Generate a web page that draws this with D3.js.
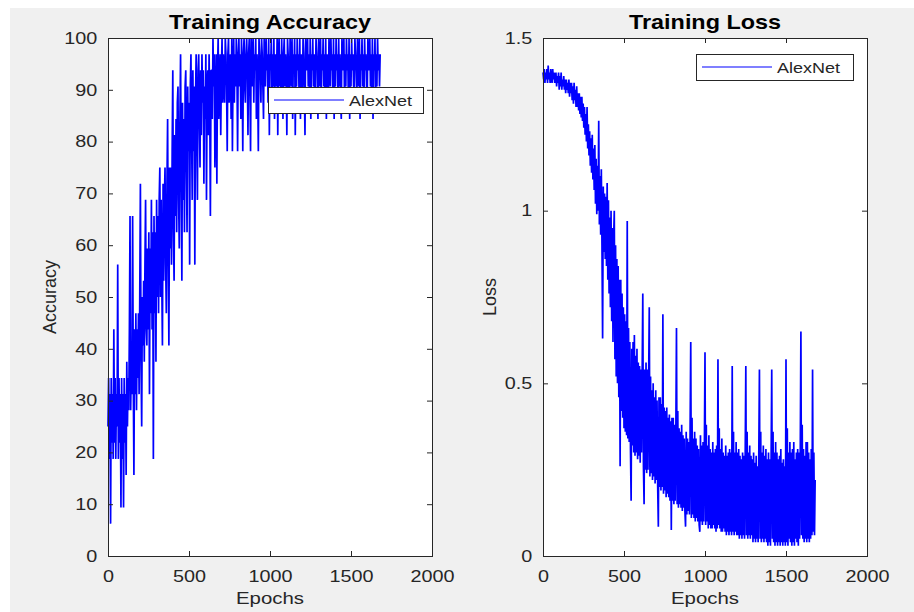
<!DOCTYPE html>
<html>
<head>
<meta charset="utf-8">
<script src="https://cdn.jsdelivr.net/npm/d3@7"></script>
<style>
  body { margin: 0; background: #fff; }
  svg { display: block; font-family: 'Liberation Sans', Arial, Helvetica, sans-serif; }
</style>
</head>
<body>
<div id="chart"></div>
<script>
const ITERATION_STEP = 4
const BATCH_SIZE = 32

const epochTicks = [0, 500, 1000, 1500, 2000]
const accuracyTicks = [0, 10, 20, 30, 40, 50, 60, 70, 80, 90, 100]
const lossTicks = [0, 0.5, 1, 1.5]
const legendLabels = ['AlexNet']

// correct images per mini batch (of 32), read every 4 iterations
const accuracyCorrect = [
  8, 11, 6, 10, 2, 11, 7, 10, 6, 14, 7, 11, 6, 10, 8, 18, 6, 11, 7, 10,
  3, 11, 6, 10, 3, 11, 7, 10, 5, 12, 8, 11, 9, 14, 21, 9, 12, 10, 21, 11,
  5, 14, 10, 15, 9, 14, 11, 15, 10, 16, 23, 12, 8, 16, 13, 17, 12, 18, 22, 14,
  13, 19, 14, 20, 10, 19, 15, 22, 14, 20, 6, 21, 15, 20, 12, 22, 16, 21, 15, 22,
  24, 16, 22, 17, 13, 23, 17, 22, 24, 18, 15, 23, 27, 18, 13, 24, 19, 24, 18, 25,
  30, 20, 17, 26, 21, 27, 20, 28, 29, 22, 19, 27, 31, 23, 17, 28, 22, 27, 20, 29,
  30, 24, 20, 29, 25, 28, 18, 29, 31, 26, 22, 30, 25, 29, 18, 28, 31, 26, 22, 30,
  31, 27, 24, 30, 26, 31, 28, 30, 23, 29, 27, 31, 22, 29, 30, 26, 31, 28, 21, 30,
  30, 27, 32, 29, 31, 24, 28, 31, 23, 30, 32, 27, 29, 31, 26, 30, 32, 28, 31, 29,
  28, 32, 31, 29, 25, 31, 32, 28, 30, 31, 27, 32, 25, 30, 32, 28, 31, 29, 32, 30,
  25, 31, 32, 29, 31, 27, 32, 30, 25, 31, 32, 29, 28, 31, 32, 30, 26, 31, 32, 29,
  25, 32, 31, 29, 32, 28, 31, 30, 32, 27, 31, 29, 25, 32, 31, 30, 28, 32, 31, 29,
  27, 32, 31, 29, 32, 30, 31, 28, 32, 26, 31, 30, 32, 28, 31, 29, 32, 27, 31, 30,
  29, 32, 26, 31, 32, 29, 31, 28, 32, 30, 27, 31, 32, 29, 31, 30, 26, 32, 31, 29,
  28, 32, 31, 29, 32, 27, 31, 30, 32, 26, 31, 29, 32, 30, 31, 28, 32, 27, 31, 30,
  28, 32, 31, 29, 26, 32, 31, 30, 32, 29, 31, 28, 32, 27, 31, 30, 32, 29, 31, 28,
  29, 32, 31, 30, 27, 32, 31, 29, 32, 28, 31, 30, 32, 29, 31, 28, 32, 27, 31, 30,
  28, 32, 31, 29, 32, 30, 31, 28, 32, 27, 31, 29, 32, 30, 31, 28, 32, 29, 31, 28,
  27, 32, 31, 30, 32, 28, 31, 29, 32, 30, 31, 28, 32, 27, 31, 29, 32, 30, 31, 29,
  29, 32, 31, 30, 28, 32, 31, 29, 32, 27, 31, 30, 32, 29, 31, 28, 32, 30, 31, 29,
  28, 32, 31, 30, 32, 29, 31, 28, 32, 27, 31, 30, 32, 28, 31, 29, 32, 30, 31, 29,
  31
]

// mini batch loss, read every 4 iterations
const lossValues = [
  1.40, 1.38, 1.41, 1.37, 1.40, 1.38, 1.41, 1.37, 1.42, 1.38, 1.40, 1.37, 1.41, 1.38, 1.37, 1.41, 1.38, 1.40, 1.37, 1.39,
  1.40, 1.36, 1.39, 1.37, 1.40, 1.35, 1.39, 1.36, 1.40, 1.35, 1.38, 1.36, 1.39, 1.35, 1.38, 1.34, 1.38, 1.35, 1.37, 1.34,
  1.38, 1.33, 1.37, 1.34, 1.37, 1.32, 1.36, 1.31, 1.37, 1.32, 1.35, 1.30, 1.36, 1.30, 1.34, 1.29, 1.34, 1.28, 1.33, 1.27,
  1.33, 1.26, 1.31, 1.24, 1.30, 1.22, 1.28, 1.20, 1.30, 1.18, 1.25, 1.16, 1.23, 1.13, 1.21, 1.11, 1.22, 1.09, 1.18, 1.06,
  1.19, 1.02, 1.15, 0.99, 1.13, 1.00, 1.26, 0.96, 1.10, 0.93, 1.12, 0.90, 0.63, 1.07, 0.88, 1.05, 0.86, 1.04, 0.84, 1.08,
  0.80, 1.03, 0.76, 0.98, 0.72, 1.00, 0.68, 0.95, 0.62, 0.92, 1.00, 0.57, 0.90, 0.52, 0.86, 0.50, 0.84, 0.46, 0.80, 0.26,
  0.80, 0.42, 0.76, 0.40, 0.72, 0.37, 0.70, 0.36, 0.68, 0.35, 0.97, 0.34, 0.66, 0.33, 0.62, 0.31, 0.16, 0.60, 0.32, 0.62,
  0.30, 0.64, 0.29, 0.58, 0.30, 0.60, 0.28, 0.56, 0.29, 0.55, 0.27, 0.54, 0.30, 0.52, 0.76, 0.26, 0.15, 0.54, 0.25, 0.56,
  0.24, 0.54, 0.25, 0.50, 0.72, 0.23, 0.52, 0.24, 0.48, 0.22, 0.50, 0.23, 0.46, 0.21, 0.48, 0.22, 0.45, 0.20, 0.085, 0.46,
  0.20, 0.46, 0.19, 0.44, 0.20, 0.70, 0.18, 0.43, 0.19, 0.42, 0.17, 0.43, 0.18, 0.40, 0.17, 0.41, 0.16, 0.39, 0.075, 0.40,
  0.16, 0.40, 0.15, 0.38, 0.16, 0.36, 0.66, 0.15, 0.42, 0.14, 0.37, 0.15, 0.36, 0.14, 0.38, 0.13, 0.35, 0.14, 0.34, 0.13,
  0.085, 0.36, 0.12, 0.34, 0.13, 0.33, 0.12, 0.36, 0.62, 0.11, 0.40, 0.12, 0.34, 0.11, 0.36, 0.10, 0.34, 0.11, 0.32, 0.10,
  0.31, 0.09, 0.07, 0.35, 0.10, 0.32, 0.09, 0.33, 0.10, 0.30, 0.59, 0.09, 0.38, 0.10, 0.32, 0.08, 0.35, 0.09, 0.31, 0.08,
  0.30, 0.08, 0.33, 0.09, 0.30, 0.08, 0.31, 0.07, 0.32, 0.08, 0.57, 0.09, 0.37, 0.08, 0.31, 0.07, 0.34, 0.07, 0.30, 0.08,
  0.29, 0.07, 0.32, 0.06, 0.29, 0.07, 0.30, 0.06, 0.31, 0.07, 0.30, 0.06, 0.55, 0.07, 0.36, 0.06, 0.30, 0.07, 0.33, 0.06,
  0.30, 0.06, 0.31, 0.05, 0.29, 0.06, 0.28, 0.05, 0.30, 0.06, 0.29, 0.05, 0.28, 0.55, 0.06, 0.36, 0.05, 0.30, 0.06, 0.32,
  0.05, 0.29, 0.06, 0.28, 0.04, 0.30, 0.05, 0.27, 0.04, 0.29, 0.05, 0.26, 0.04, 0.29, 0.54, 0.05, 0.36, 0.04, 0.30, 0.05,
  0.32, 0.04, 0.29, 0.05, 0.31, 0.04, 0.28, 0.03, 0.30, 0.04, 0.28, 0.03, 0.27, 0.54, 0.05, 0.36, 0.04, 0.30, 0.03, 0.33,
  0.04, 0.30, 0.03, 0.28, 0.04, 0.29, 0.03, 0.31, 0.04, 0.27, 0.03, 0.28, 0.04, 0.26, 0.03, 0.57, 0.04, 0.37, 0.03, 0.30,
  0.05, 0.33, 0.04, 0.30, 0.03, 0.31, 0.04, 0.33, 0.03, 0.28, 0.05, 0.30, 0.04, 0.31, 0.03, 0.30, 0.05, 0.29, 0.65, 0.06,
  0.38, 0.05, 0.31, 0.04, 0.29, 0.05, 0.33, 0.04, 0.33, 0.05, 0.30, 0.04, 0.28, 0.05, 0.31, 0.06, 0.54, 0.07, 0.30, 0.06,
  0.22
]

const accuracyValues = accuracyCorrect.map(k => k / BATCH_SIZE * 100)

const INK = '#262626'
const STRETCH = 1.2
const width = 914
const height = 612

const box = {top: 38, bottom: 556}

const styleTicks = size => g => g
  .attr('color', INK)
  .call(g => g.select('.domain').remove())
  .call(g => g.selectAll('text')
    .attr('font-size', size)
    .attr('fill', INK)
    .attr('transform', `scale(${STRETCH},1)`))

const bottomAxis = x => g => g
  .attr('transform', `translate(0,${box.bottom})`)
  .call(d3.axisBottom(x)
    .tickValues(epochTicks)
    .tickSizeInner(-5)
    .tickSizeOuter(0)
    .tickPadding(14)
    .tickFormat(d3.format('d')))
  .call(styleTicks(16.5))

const topAxis = x => g => g
  .attr('transform', `translate(0,${box.top})`)
  .call(d3.axisTop(x).tickValues(epochTicks).tickSizeInner(-5).tickSizeOuter(0).tickFormat(''))
  .call(styleTicks(16.5))

const leftAxis = (left, y, ticks, fmt) => g => g
  .attr('transform', `translate(${left},0)`)
  .call(d3.axisLeft(y).tickValues(ticks).tickSizeInner(-5).tickSizeOuter(0).tickPadding(9).tickFormat(fmt))
  .call(styleTicks(16.5))

const rightAxis = (right, y, ticks) => g => g
  .attr('transform', `translate(${right},0)`)
  .call(d3.axisRight(y).tickValues(ticks).tickSizeInner(-5).tickSizeOuter(0).tickFormat(''))
  .call(styleTicks(16.5))

const stretchedText = (g, x, y, text) => g.append('text')
  .attr('transform', `translate(${x},${y}) scale(${STRETCH},1)`)
  .attr('text-anchor', 'middle')
  .text(text)

const drawPanel = (svg, panel) => {
  const x = d3.scaleLinear().domain([0, 2000]).range([panel.left, panel.right])
  const y = d3.scaleLinear().domain(panel.yDomain).range([box.bottom, box.top])

  const g = svg.append('g')

  g.append('rect')
    .attr('x', panel.left)
    .attr('y', box.top)
    .attr('width', panel.right - panel.left)
    .attr('height', box.bottom - box.top)
    .attr('fill', '#fff')

  const line = d3.line()
    .x((d, i) => x(i * ITERATION_STEP))
    .y(d => y(d))

  g.append('path')
    .attr('fill', 'none')
    .attr('stroke', '#0000ff')
    .attr('stroke-width', 1.7)
    .attr('stroke-linejoin', 'bevel')
    .attr('d', line(panel.values))

  g.append('rect')
    .attr('x', panel.left + 0.5)
    .attr('y', box.top + 0.5)
    .attr('width', panel.right - panel.left)
    .attr('height', box.bottom - box.top)
    .attr('fill', 'none')
    .attr('stroke', INK)
    .attr('stroke-width', 1)

  g.append('g').call(bottomAxis(x))
  g.append('g').call(topAxis(x))
  g.append('g').call(leftAxis(panel.left, y, panel.ticks, panel.format))
  g.append('g').call(rightAxis(panel.right, y, panel.ticks))

  const cx = (panel.left + panel.right) / 2

  stretchedText(g, cx, 29, panel.title)
    .attr('font-size', 19.5)
    .attr('font-weight', 'bold')
    .attr('fill', '#000')

  stretchedText(g, cx, 604, 'Epochs')
    .attr('font-size', 17)
    .attr('fill', INK)

  g.append('text')
    .attr('transform', `translate(${panel.yLabelX},${(box.top + box.bottom) / 2}) rotate(-90)`)
    .attr('text-anchor', 'middle')
    .attr('font-size', 18)
    .attr('fill', INK)
    .text(panel.yLabel)

  // legend
  const lg = g.append('g')
    .attr('transform', `translate(${panel.legend.x},${panel.legend.y})`)

  lg.append('rect')
    .attr('x', 0.5)
    .attr('y', 0.5)
    .attr('width', panel.legend.w)
    .attr('height', 26)
    .attr('fill', '#fff')
    .attr('stroke', INK)

  lg.append('line')
    .attr('x1', 6)
    .attr('x2', 76)
    .attr('y1', 13)
    .attr('y2', 13)
    .attr('stroke', '#0000ff')
    .attr('stroke-width', 1.2)

  lg.append('text')
    .attr('transform', `translate(81,19) scale(${STRETCH},1)`)
    .attr('font-size', 15)
    .attr('fill', INK)
    .text(legendLabels[0])
}

const svg = d3.select('#chart').append('svg')
  .attr('width', width)
  .attr('height', height)

svg.append('rect')
  .attr('x', 10)
  .attr('y', 8)
  .attr('width', width - 10)
  .attr('height', height - 8)
  .attr('fill', '#f0f0f0')

drawPanel(svg, {
  left: 108,
  right: 432,
  yDomain: [0, 100],
  ticks: accuracyTicks,
  format: d3.format('d'),
  values: accuracyValues,
  title: 'Training Accuracy',
  yLabel: 'Accuracy',
  yLabelX: 56,
  legend: {x: 268, y: 87, w: 155}
})

drawPanel(svg, {
  left: 543,
  right: 867,
  yDomain: [0, 1.5],
  ticks: lossTicks,
  format: d => String(d),
  values: lossValues,
  title: 'Training Loss',
  yLabel: 'Loss',
  yLabelX: 496,
  legend: {x: 696, y: 54, w: 157}
})
</script>
</body>
</html>
